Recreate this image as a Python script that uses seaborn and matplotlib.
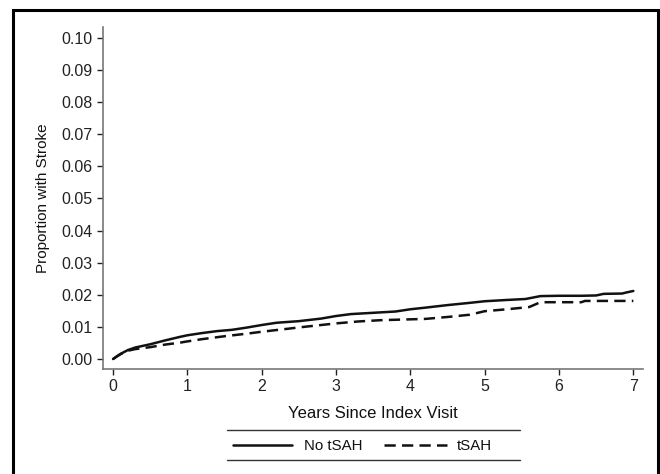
import matplotlib
matplotlib.use("Agg")
import matplotlib.pyplot as plt
import seaborn as sns
import pandas as pd
from matplotlib.lines import Line2D
from matplotlib.patches import Rectangle

# Data
years_no = [0.0, 0.05, 0.1, 0.2, 0.3, 0.5, 0.7, 0.9, 1.0, 1.2, 1.4, 1.6, 1.8, 2.0, 2.2, 2.5, 2.8, 3.0, 3.2, 3.5, 3.8, 4.0, 4.2, 4.5, 4.8, 5.0, 5.3, 5.55, 5.75, 6.0, 6.3, 6.5, 6.6, 6.85, 6.9, 7.0]
prop_no = [0.0, 0.0008, 0.0016, 0.0028, 0.0036, 0.0046, 0.0058, 0.0069, 0.0074, 0.0081, 0.0087, 0.0091, 0.0098, 0.0106, 0.0113, 0.0118, 0.0126, 0.0134, 0.0140, 0.0144, 0.0148, 0.0155, 0.0160, 0.0168, 0.0175, 0.0180, 0.0184, 0.0187, 0.0196, 0.0197, 0.0197, 0.0198, 0.0203, 0.0204, 0.0207, 0.0212]
years_t = [0.0, 0.05, 0.1, 0.2, 0.3, 0.5, 0.7, 0.9, 1.0, 1.2, 1.5, 1.8, 2.0, 2.3, 2.6, 3.0, 3.3, 3.6, 3.9, 4.2, 4.5, 4.8, 5.0, 5.3, 5.6, 5.75, 6.0, 6.3, 6.35, 6.8, 7.0]
prop_t = [0.0, 0.0008, 0.0015, 0.0026, 0.0031, 0.0037, 0.0045, 0.0051, 0.0055, 0.0062, 0.0071, 0.0079, 0.0085, 0.0093, 0.0101, 0.0111, 0.0117, 0.0121, 0.0123, 0.0125, 0.0131, 0.0138, 0.0149, 0.0155, 0.0162, 0.0177, 0.0177, 0.0177, 0.0181, 0.0181, 0.0181]
group_names = ["No tSAH", "tSAH"]
x_ticks = [0, 1, 2, 3, 4, 5, 6, 7]
y_ticks = [0.00, 0.01, 0.02, 0.03, 0.04, 0.05, 0.06, 0.07, 0.08, 0.09, 0.10]

df = pd.concat([
    pd.DataFrame({"Years": years_no, "Prop": prop_no, "Group": group_names[0]}),
    pd.DataFrame({"Years": years_t, "Prop": prop_t, "Group": group_names[1]}),
])

sns.set_theme(style="ticks")
plt.rcParams['font.family'] = ['Liberation Sans', 'DejaVu Sans']

fig = plt.figure(figsize=(6.6, 4.74), dpi=100)
W, H = 660, 474
ax = fig.add_axes([103 / W, 1 - 369 / H, (643 - 103) / W, (369 - 27) / H])

sns.lineplot(data=df, x="Years", y="Prop", hue="Group", style="Group",
             palette={"No tSAH": "#111111", "tSAH": "#111111"},
             dashes={"No tSAH": "", "tSAH": (4.5, 2.5)},
             linewidth=1.8, legend=False, ax=ax, estimator=None)

ax.set_xlim(-0.135, 7.13)
ax.set_ylim(-0.0031, 0.1034)
ax.set_xticks(x_ticks)
ax.set_xticklabels([str(t) for t in x_ticks])
ax.set_yticks(y_ticks)
ax.set_yticklabels([f"{t:.2f}" for t in y_ticks])
ax.tick_params(axis="both", labelsize=11.5, colors="#222222", length=4, width=1, direction="out")
ax.tick_params(axis="x", pad=3)
for s in ["top", "right"]:
    ax.spines[s].set_visible(False)
for s in ["left", "bottom"]:
    ax.spines[s].set_color("#777777")
    ax.spines[s].set_linewidth(1.2)
ax.set_xlabel("Years Since Index Visit", fontsize=12, color="#111111", labelpad=9)
ax.set_ylabel("Proportion with Stroke", fontsize=11, color="#111111", labelpad=8)

# Legend with rules above and below
fy = lambda y: 1 - y / H
fx = lambda x: x / W
fig.add_artist(Line2D([fx(227), fx(520)], [fy(430), fy(430)], color="#333333", lw=1.0))
fig.add_artist(Line2D([fx(227), fx(520)], [fy(460), fy(460)], color="#333333", lw=1.0))
fig.add_artist(Line2D([fx(233), fx(292)], [fy(445), fy(445)], color="#111111", lw=1.8))
fig.add_artist(Line2D([fx(384), fx(447)], [fy(445), fy(445)], color="#111111", lw=1.8, dashes=(4.5, 2.5)))
fig.text(fx(304), fy(446), group_names[0], fontsize=10.8, va="center", ha="left", color="#111111")
fig.text(fx(457), fy(446), group_names[1], fontsize=10.8, va="center", ha="left", color="#111111")

# Outer frame
fig.add_artist(Rectangle((fx(13), fy(480)), fx(658) - fx(13), fy(10) - fy(480),
                         fill=False, edgecolor="black", lw=2.2, transform=fig.transFigure))

fig.savefig("out.png", dpi=100)
